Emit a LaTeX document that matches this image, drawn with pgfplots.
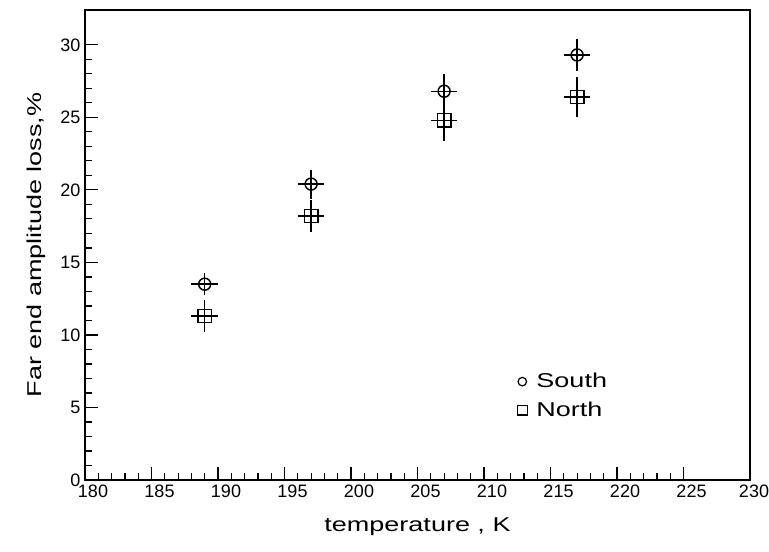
\documentclass[border=0pt]{standalone}
\usepackage{pgfplots}
\pgfplotsset{compat=1.18}
\usepackage{pgfplotstable}
\usepackage{fontspec}
\setmainfont{Liberation Sans}[FakeStretch=1.35]
\newfontfamily\tickfont{Liberation Sans}

\pgfplotstableread{
x y ex ey
189 13.5 1 0.75
197 20.4 1 1.0
207 26.8 1 1.2
217 29.3 1 1.1
}\south
\pgfplotstableread{
x y ex ey
189 11.3 1 1.1
197 18.2 1 1.1
207 24.8 1 1.4
217 26.4 1 1.4
}\north

\begin{document}
\begin{tikzpicture}
\begin{axis}[
  scale only axis,
  width=498.75pt, height=352.5pt,
  xmin=180, xmax=230, ymin=0, ymax=32.4,
  axis line style={line width=1pt, black},
  xtick={180,185,...,225}, ytick={0,5,...,30},
  extra x ticks={230},
  extra x tick style={xticklabel style={anchor=north, xshift=-3pt}},
  minor x tick num=4, minor y tick num=4,
  tick align=inside, xtick pos=bottom, ytick pos=left,
  major tick length=10pt, minor tick length=5.5pt,
  tick style={line width=0.9pt, black},
  /pgf/number format/assume math mode=true,
  ticklabel style={font=\tickfont\fontsize{13.5}{15}\selectfont},
  xticklabel style={anchor=north, xshift=6pt},
  xlabel={temperature , K},
  ylabel={Far end amplitude loss,\%},
  label style={font=\fontsize{15}{17}\selectfont},
  xlabel style={yshift=-8pt},
  ylabel style={yshift=4pt},
  legend style={draw=none, fill=none, at={(axis cs:212.2,5.8)}, anchor=west,
    font=\fontsize{15}{17}\selectfont, row sep=5pt, nodes={inner xsep=7pt}},
  legend cell align=left,
  legend image code/.code={\draw[mark repeat=2,mark phase=2,#1] plot coordinates {(0cm,0cm) (0.3cm,0cm) (0.55cm,0cm)};},
]
% error bars first (no marks, no line)
\addplot[forget plot, draw=none, mark=none,
  error bars/.cd, x dir=both, x explicit, y dir=both, y explicit, error mark=none,
  error bar style={draw=black, solid, line width=1.1pt}]
  table[x=x, y=y, x error=ex, y error=ey] {\south};
\addplot[forget plot, draw=none, mark=none,
  error bars/.cd, x dir=both, x explicit, y dir=both, y explicit, error mark=none,
  error bar style={draw=black, solid, line width=1.1pt}]
  table[x=x, y=y, x error=ex, y error=ey] {\north};
% markers on top
\addplot[forget plot, only marks, mark=o, mark size=4.5pt, mark options={fill=white, draw=black, line width=1.1pt}]
  table[x=x, y=y] {\south};
\addplot[forget plot, only marks, mark=square, mark size=5pt, mark options={fill=white, draw=black, line width=1.1pt}]
  table[x=x, y=y] {\north};
\addlegendimage{only marks, mark=o, mark size=3.2pt, black, mark options={line width=0.9pt}}
\addlegendentry{South}
\addlegendimage{only marks, mark=square, mark size=3.6pt, black, mark options={line width=0.9pt}}
\addlegendentry{North}
\end{axis}
\pgfresetboundingbox
\path ([shift={(-63.75pt,-53.25pt)}]current axis.south west) rectangle ([shift={(14.25pt,7.5pt)}]current axis.north east);
\end{tikzpicture}
\end{document}
